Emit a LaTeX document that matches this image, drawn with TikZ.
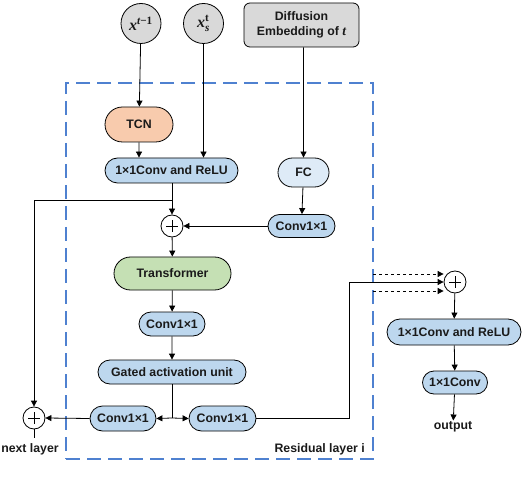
\documentclass[tikz,border=0pt]{standalone}
\usepackage{fontspec}
\usepackage{amsmath}
\setmainfont{Liberation Sans}
\newfontfamily\mathlike{Liberation Serif}
\newcommand\bx[1]{{\mathlike\bfseries\itshape #1}}
\newcommand\bu[1]{{\mathlike\bfseries #1}}
\usetikzlibrary{arrows.meta,shapes.misc,calc}
\definecolor{boxblue}{HTML}{BDD7EE}
\definecolor{lightblue}{HTML}{DEEBF7}
\definecolor{tcnorange}{HTML}{F8CBAD}
\definecolor{trgreen}{HTML}{C5E0B4}
\definecolor{boxgray}{HTML}{D9D9D9}
\definecolor{dashblue}{HTML}{4F81D0}
\definecolor{ink}{HTML}{1A1A1A}
\begin{document}
\begin{tikzpicture}[x=1pt,y=-1pt,
  every node/.style={font=\bfseries\fontsize{12.3}{14}\selectfont,text=ink},
  pill/.style={rounded rectangle,draw,line width=0.8pt,inner sep=1pt,fill=boxblue},
  inp/.style={circle,draw,line width=0.8pt,fill=boxgray,minimum size=40pt,inner sep=0pt,font=\fontsize{16}{18}\selectfont},
  plusnode/.style={circle,draw,line width=0.8pt,fill=white,minimum size=22pt,inner sep=0pt,
    path picture={\draw[line width=0.8pt]
      ([xshift=-6pt]path picture bounding box.center) -- ([xshift=6pt]path picture bounding box.center)
      ([yshift=-6pt]path picture bounding box.center) -- ([yshift=6pt]path picture bounding box.center);}},
  arr/.style={line width=0.8pt,-{Triangle[length=6pt,width=6pt]}},
  ln/.style={line width=0.8pt},
  darr/.style={line width=0.8pt,dashed,-{Triangle[length=6pt,width=6pt]}},
  txt/.style={inner sep=1pt}
]
\useasboundingbox (0,0) rectangle (524,502);
% residual frame
\node[draw=dashblue,line width=1.3pt,dash pattern=on 14pt off 7pt,minimum width=307pt,minimum height=376pt,inner sep=0pt] (res) at (219.5,271) {};
% inputs
\node[inp] (xt1) at (141,23.5) {$\text{\bx{x}}^{\text{\bx{t}\bu{−1}}}$};
\node[inp] (xst) at (203.5,23.5) {$\text{\bx{x}}_{\text{\bx{s}}}^{\text{\bu{t}}}$};
\node[draw,line width=0.8pt,rounded corners=6pt,fill=boxgray,minimum width=115pt,minimum height=44pt,align=center,inner sep=1pt,
  font=\bfseries\fontsize{12.3}{15}\selectfont] (diff) at (301.5,25) {Diffusion\\Embedding of {\fontsize{13.5}{15}\selectfont\bx{t}}};
% main column
\node[pill,fill=tcnorange,minimum width=70pt,minimum height=35pt] (tcn) at (139,124.5) {TCN};
\node[pill,minimum width=135pt,minimum height=25pt] (conv1) at (171.5,170.5) {1×1Conv and ReLU};
\node[pill,fill=lightblue,minimum width=53pt,minimum height=29pt] (fc) at (303.5,172.5) {FC};
\node[pill,minimum width=69pt,minimum height=23pt] (convr) at (301.5,226) {Conv1×1};
\node[plusnode] (plus1) at (172,226) {};
\node[pill,fill=trgreen,minimum width=119pt,minimum height=33pt] (trans) at (172.5,273.5) {Transformer};
\node[pill,minimum width=68pt,minimum height=24pt] (convm) at (172,324) {Conv1×1};
\node[pill,minimum width=150pt,minimum height=24pt] (gated) at (172,372) {Gated activation unit};
\node[pill,minimum width=68pt,minimum height=25pt] (convbl) at (123,418.5) {Conv1×1};
\node[pill,minimum width=69pt,minimum height=25pt] (convbr) at (222.5,418.5) {Conv1×1};
\node[plusnode] (plusl) at (34,418) {};
\node[txt] (nl) at (30,449) {next layer};
\node[txt,anchor=east] (rl) at (366,449) {Residual layer i};
% output column
\node[plusnode] (plusr) at (455,282) {};
\node[pill,minimum width=136pt,minimum height=26pt] (convrr) at (454,332) {1×1Conv and ReLU};
\node[pill,minimum width=67pt,minimum height=23pt] (conv11) at (455,382.5) {1×1Conv};
\node[txt] (out) at (453,427) {output};
% coordinates
\coordinate (sk) at (172,200);
\coordinate (sp) at (172,418);
\coordinate (jr) at (349,282);
\coordinate (d1) at (373,274);
\coordinate (d2) at (373,291);
% connectors
\draw[arr] (xt1) -- (tcn);
\draw[arr] (tcn) -- (conv1.north -| tcn);
\draw[arr] (xst) -- (conv1.north -| xst);
\draw[arr] (diff.south -| fc) -- (fc);
\draw[arr] (fc) -- (convr);
\draw[arr] (convr) -- (plus1);
\draw[arr] (conv1.south -| plus1) -- (plus1);
\draw[arr] (sk) -| (plusl.north);
\draw[arr] (plus1) -- (trans);
\draw[arr] (trans) -- (convm);
\draw[arr] (convm) -- (gated);
\draw[ln] (gated.south -| sp) -- (sp);
\draw[arr] (sp) -- (convbl.east);
\draw[arr] (sp) -- (convbr.west);
\draw[arr] (convbl.west) -- (plusl.east);
\draw[ln] (plusl.south) -- ($(nl.north -| plusl)+(0,-4)$);
\draw[ln] (convbr.east) -| (jr);
\draw[arr] (jr) -- (plusr.west);
\draw[darr] (d1) -- (d1 -| plusr.west);
\draw[darr] (d2) -- (d2 -| plusr.west);
\draw[arr] (plusr) -- (convrr);
\draw[arr] (convrr) -- (conv11);
\draw[arr] (conv11) -- (out);
\end{tikzpicture}
\end{document}
